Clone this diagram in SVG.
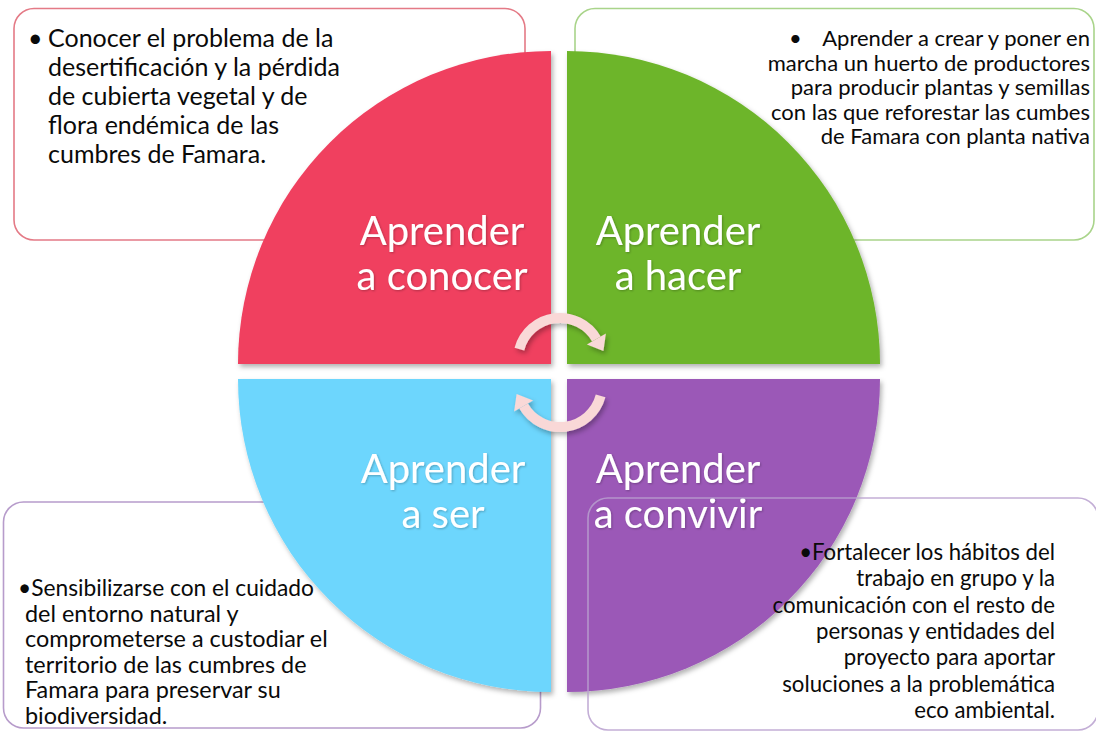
<svg xmlns="http://www.w3.org/2000/svg" width="1096" height="731" viewBox="0 0 1096 731">
<defs>
<style>
.box{fill:#fff;stroke-width:1.6}
.txt{font-family:Lato,"Open Sans","Liberation Sans",sans-serif;font-size:25px;fill:#0a0a0a}
.lbl{font-family:Lato,"Open Sans","Liberation Sans",sans-serif;font-size:40px;fill:#fff;text-anchor:middle}
.end{text-anchor:end}
.arc{fill:none;stroke:#F9D8D7;stroke-width:10}
.head{fill:#F9D8D7}
</style>
<filter id="sh" x="-10%" y="-10%" width="130%" height="130%">
<feDropShadow dx="2" dy="3" stdDeviation="2.5" flood-color="#000" flood-opacity="0.3"/>
</filter>
<filter id="tsh" x="-10%" y="-10%" width="120%" height="130%">
<feDropShadow dx="1" dy="1" stdDeviation="1" flood-color="#000" flood-opacity="0.25"/>
</filter>
</defs>
<rect width="1096" height="731" fill="#fff"/>

<g id="box-conocer">
<rect class="box" x="14" y="8.5" width="511" height="231.5" rx="20" stroke="#E47A86"/>
<text class="txt" x="28" y="47">•</text>
<text class="txt"><tspan x="48" y="47">Conocer el problema de la</tspan><tspan x="48" y="76">desertificación y la pérdida</tspan><tspan x="48" y="105">de cubierta vegetal y de</tspan><tspan x="48" y="134">flora endémica de las</tspan><tspan x="48" y="163">cumbres de Famara.</tspan></text>
</g>

<g id="box-hacer">
<rect class="box" x="575" y="8.5" width="519" height="231.5" rx="20" stroke="#A9D48A"/>
<text class="txt" x="789" y="46" style="font-size:22px">•</text>
<text class="txt end" style="font-size:22px"><tspan x="1090" y="46">Aprender a crear y poner en</tspan><tspan x="1090" y="70.5">marcha un huerto de productores</tspan><tspan x="1090" y="95">para producir plantas y semillas</tspan><tspan x="1090" y="119.5">con las que reforestar las cumbes</tspan><tspan x="1090" y="144">de Famara con planta nativa</tspan></text>
</g>

<g id="box-ser">
<rect class="box" x="3.5" y="502" width="537" height="226" rx="20" stroke="#B79CCB"/>
<text class="txt" style="font-size:23.4px" x="18" y="596" textLength="296" lengthAdjust="spacingAndGlyphs">•Sensibilizarse con el cuidado</text>
<text class="txt" style="font-size:23.4px"><tspan x="25" y="621.6">del entorno natural y</tspan><tspan x="25" y="647.2">comprometerse a custodiar el</tspan><tspan x="25" y="672.8">territorio de las cumbres de</tspan><tspan x="25" y="698.4">Famara para preservar su</tspan><tspan x="25" y="724">biodiversidad.</tspan></text>
</g>

<g id="quad-conocer">
<path d="M551 364 L238 364 A313 313 0 0 1 551 51 Z" fill="#F03F5F" filter="url(#sh)"/>
<text class="lbl" filter="url(#tsh)"><tspan x="442" y="245">Aprender</tspan><tspan x="442" y="290">a conocer</tspan></text>
</g>

<g id="quad-hacer">
<path d="M567 364 L567 51 A313 313 0 0 1 880 364 Z" fill="#6DB52A" filter="url(#sh)"/>
<text class="lbl" filter="url(#tsh)"><tspan x="678" y="245">Aprender</tspan><tspan x="678" y="290">a hacer</tspan></text>
</g>

<g id="quad-ser">
<path d="M551 379 L551 692 A313 313 0 0 1 238 379 Z" fill="#6DD6FD" filter="url(#sh)"/>
<text class="lbl" filter="url(#tsh)"><tspan x="443" y="483">Aprender</tspan><tspan x="443" y="528">a ser</tspan></text>
</g>

<g id="quad-convivir">
<path d="M567 379 L880 379 A313 313 0 0 1 567 692 Z" fill="#9B59B7" filter="url(#sh)"/>
<text class="lbl" filter="url(#tsh)"><tspan x="678" y="483">Aprender</tspan><tspan x="678" y="528">a convivir</tspan></text>
</g>

<g id="connectors" filter="url(#sh)">
<path class="arc" d="M519.4 349.1 A42 42 0 0 1 596.4 339"/>
<polygon class="head" points="586.9,344.5 605.9,333.5 603.4,351.1"/>
<path class="arc" d="M600.6 395.9 A42 42 0 0 1 523.6 406"/>
<polygon class="head" points="533.1,400.5 514.1,411.5 516.6,393.9"/>
</g>

<g id="box-convivir">
<rect x="588" y="498" width="510" height="232" rx="20" fill="none" stroke="#B9A0CF" stroke-width="1.6" stroke-opacity="0.85"/>
<text class="txt end" style="font-size:22.2px"><tspan x="1055" y="560">•Fortalecer los hábitos del</tspan><tspan x="1055" y="586.3">trabajo en grupo y la</tspan><tspan x="1055" y="612.6">comunicación con el resto de</tspan><tspan x="1055" y="638.9">personas y entidades del</tspan><tspan x="1055" y="665.2">proyecto para aportar</tspan><tspan x="1055" y="691.5">soluciones a la problemática</tspan><tspan x="1055" y="717.8">eco ambiental.</tspan></text>
</g>
</svg>
